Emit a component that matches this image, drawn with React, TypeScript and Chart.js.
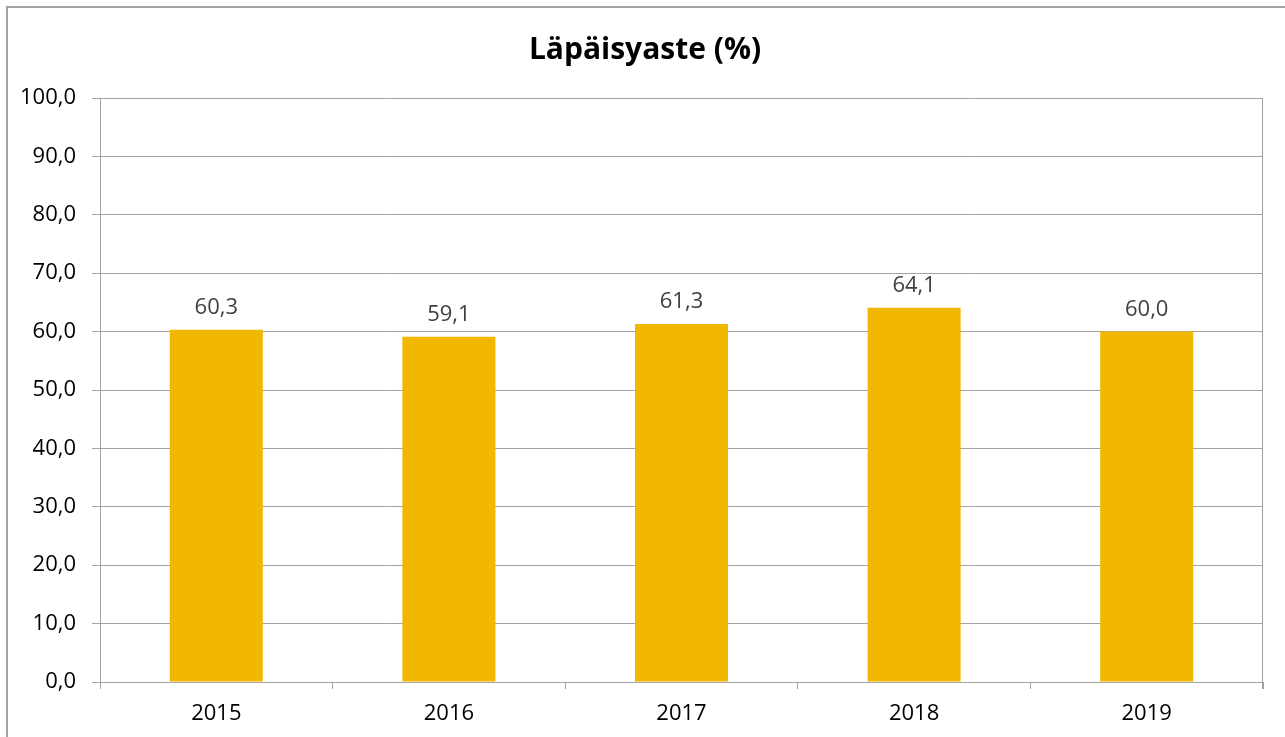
import React, { useEffect, useRef } from "react";
import { Chart, registerables } from "chart.js";

Chart.register(...registerables);

const categories = ["2015", "2016", "2017", "2018", "2019"];
const values = [60.3, 59.1, 61.3, 64.1, 60.0];
const titleText = "Läpäisyaste (%)";

const GRID = "#A3A3A3";
const BAR = "#F2B700";
const FONT = "'Open Sans', sans-serif";

const fmt = (v: number) => v.toFixed(1).replace(".", ",");

const dataLabelPlugin = {
  id: "dataLabels",
  afterDatasetsDraw(chart: any) {
    const ctx = chart.ctx;
    const meta = chart.getDatasetMeta(0);
    ctx.save();
    ctx.fillStyle = "#404040";
    ctx.font = `22px ${FONT}`;
    ctx.textAlign = "center";
    ctx.textBaseline = "alphabetic";
    meta.data.forEach((bar: any, i: number) => {
      ctx.fillText(fmt(chart.data.datasets[0].data[i]), bar.x, bar.y - 16);
    });
    ctx.restore();
  },
};

const titlePlugin = {
  id: "chartTitle",
  afterDraw(chart: any) {
    const ctx = chart.ctx;
    ctx.save();
    ctx.fillStyle = "#000000";
    ctx.font = `bold 30px ${FONT}`;
    ctx.textAlign = "center";
    ctx.textBaseline = "middle";
    ctx.fillText(titleText, 645, 50);
    ctx.restore();
  },
};

const rightEdgePlugin = {
  id: "rightEdge",
  afterDraw(chart: any) {
    const { ctx, chartArea } = chart;
    ctx.save();
    ctx.strokeStyle = GRID;
    ctx.lineWidth = 1;
    ctx.beginPath();
    const x = Math.round(chartArea.right) - 0.5;
    ctx.moveTo(x, chartArea.top);
    ctx.lineTo(x, chartArea.bottom + 7);
    ctx.stroke();
    ctx.restore();
  },
};

export default function App() {
  const ref = useRef<HTMLCanvasElement>(null);
  useEffect(() => {
    if (!ref.current) return;
    const chart = new Chart(ref.current, {
      type: "bar",
      data: {
        labels: categories,
        datasets: [
          {
            data: values,
            backgroundColor: BAR,
            borderWidth: 0,
            barPercentage: 0.4,
            categoryPercentage: 1.0,
          },
        ],
      },
      options: {
        animation: false,
        responsive: false,
        maintainAspectRatio: false,
        layout: { padding: { left: 0, right: 22, top: 98, bottom: 0 } },
        plugins: {
          legend: { display: false },
          tooltip: { enabled: false },
          title: { display: false },
        },
        scales: {
          x: {
            grid: {
              display: true,
              drawOnChartArea: false,
              drawTicks: true,
              tickLength: 7,
              color: GRID,
              offset: true,
            },
            border: { display: true, color: GRID },
            ticks: {
              color: "#000000",
              font: { family: FONT, size: 22 },
              padding: 12,
            },
            afterFit: (s: any) => {
              s.height = 55;
            },
          },
          y: {
            min: 0,
            max: 100,
            grid: { color: GRID, tickLength: 8, lineWidth: 1 },
            border: { display: true, color: GRID },
            ticks: {
              stepSize: 10,
              color: "#000000",
              font: { family: FONT, size: 22 },
              padding: 16,
              callback: (v: any) => fmt(Number(v)),
            },
            afterFit: (s: any) => {
              s.width = 100;
            },
          },
        },
      },
      plugins: [dataLabelPlugin, rightEdgePlugin, titlePlugin],
    });
    return () => chart.destroy();
  }, []);

  return (
    <div
      style={{
        position: "fixed",
        left: 0,
        top: 0,
        width: 1285,
        height: 737,
        background: "#ffffff",
        overflow: "hidden",
      }}
    >
      <div
        style={{
          position: "absolute",
          left: 6,
          top: 6,
          width: 1400,
          height: 900,
          border: `2px solid ${GRID}`,
          boxSizing: "border-box",
        }}
      />
      <canvas
        ref={ref}
        width={1285}
        height={737}
        style={{ position: "absolute", left: 0, top: 0, width: 1285, height: 737 }}
      />
    </div>
  );
}
